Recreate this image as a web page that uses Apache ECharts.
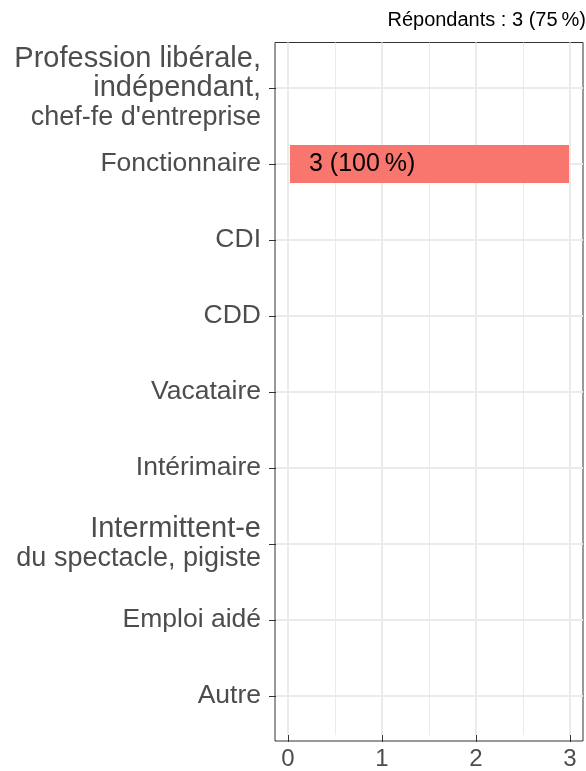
<!DOCTYPE html>
<html>
<head>
<meta charset="utf-8">
<script src="https://cdn.jsdelivr.net/npm/echarts@6/dist/echarts.min.js"></script>
<style>
  html, body { margin: 0; padding: 0; background: #fff; }
  #app { width: 586px; height: 771px; }
</style>
</head>
<body>
<div id="app"></div>
<script>
// données
const categories = [
    'Profession libérale,\nindépendant,\nchef-fe d\'entreprise',
    'Fonctionnaire',
    'CDI',
    'CDD',
    'Vacataire',
    'Intérimaire',
    'Intermittent-e\ndu spectacle, pigiste',
    'Emploi aidé',
    'Autre'
];
const counts = [0, 3, 0, 0, 0, 0, 0, 0, 0];
const percents = [0, 100, 0, 0, 0, 0, 0, 0, 0];
const respondents = 3;
const respondentsPct = 75;

const font = "'Liberation Sans', Arial, sans-serif";
const grey = '#4D4D4D';
const gridColor = '#EBEBEB';
const labelBox = 258;

const option = {
    animation: false,
    backgroundColor: '#fff',
    title: {
        text: 'Répondants : ' + respondents + ' (' + respondentsPct + '\u202f%)',
        right: 0,
        top: 10,
        padding: 0,
        textStyle: { fontFamily: font, fontSize: 20, fontWeight: 'normal', color: '#000' }
    },
    grid: [
        // vertical lines + x axis (0 -> 3)
        { left: 288, right: 16, top: 42.5, bottom: 30 },
        // categories, bars, horizontal lines
        { left: 275, right: 3, top: 88, bottom: 75 },
        // panel border
        { left: 275, right: 3, top: 42.5, bottom: 30, show: true, borderColor: '#333333', borderWidth: 1, backgroundColor: 'transparent' }
    ],
    xAxis: [
        {
            gridIndex: 0, type: 'value', min: 0, max: 3, interval: 1,
            axisLine: { show: false, onZero: false },
            axisTick: { show: true, length: 7, lineStyle: { color: '#333333', width: 1 } },
            axisLabel: { fontFamily: font, fontSize: 24, color: grey, margin: 12 },
            splitLine: { show: true, lineStyle: { color: gridColor, width: 2 } },
            minorTick: { show: false, splitNumber: 2 },
            minorSplitLine: { show: true, lineStyle: { color: gridColor, width: 1 } }
        },
        { gridIndex: 1, type: 'value', min: -0.15, max: 3.15, show: false },
        { gridIndex: 2, type: 'value', show: false }
    ],
    yAxis: [
        { gridIndex: 0, type: 'value', show: false },
        {
            gridIndex: 1, type: 'category', data: categories, inverse: true, boundaryGap: false,
            axisLine: { show: false, onZero: false },
            axisTick: { show: true, length: 7, lineStyle: { color: '#333333', width: 1 } },
            axisLabel: {
                interval: 0, margin: 15, color: grey, fontFamily: font, fontSize: 27,
                formatter: function (v) {
                    const lines = v.split('\n');
                    if (lines.length === 1) return '{s|' + v + '}';
                    return lines.map(function (l, i) {
                        return (i < lines.length - 1 ? '{l|' : '{m|') + l + '}';
                    }).join('\n');
                },
                rich: {
                    s: { fontFamily: font, fontSize: 26.5, color: grey, width: labelBox, align: 'right' },
                    l: { fontFamily: font, fontSize: 29, lineHeight: 29.5, color: grey, width: labelBox, align: 'right' },
                    m: { fontFamily: font, fontSize: 27, lineHeight: 29.5, color: grey, width: labelBox, align: 'right' }
                }
            },
            splitLine: { show: true, lineStyle: { color: gridColor, width: 2 } }
        },
        { gridIndex: 2, type: 'value', show: false }
    ],
    series: [{
        type: 'bar',
        xAxisIndex: 1,
        yAxisIndex: 1,
        data: counts,
        barWidth: '50%',
        itemStyle: { color: '#F8766D' },
        label: {
            show: true,
            position: 'insideLeft',
            distance: 19,
            fontFamily: font,
            fontSize: 25,
            color: '#000',
            formatter: function (p) {
                if (!p.value) return '';
                return p.value + ' (' + percents[p.dataIndex] + '\u202f%)';
            }
        }
    }]
};

echarts.init(document.getElementById('app')).setOption(option);
</script>
</body>
</html>
